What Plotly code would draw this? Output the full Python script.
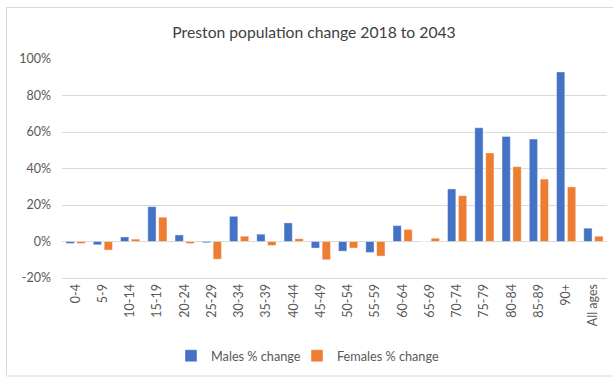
import plotly.graph_objects as go

# Age bands and projected % change 2018 -> 2043
age_bands = ["0-4", "5-9", "10-14", "15-19", "20-24", "25-29", "30-34", "35-39",
             "40-44", "45-49", "50-54", "55-59", "60-64", "65-69", "70-74", "75-79",
             "80-84", "85-89", "90+", "All ages"]
males_pct = [-1.1, -1.8, 2.5, 19.1, 3.6, -0.7, 13.8, 4.0, 10.2, -3.6, -5.3, -6.0,
             8.7, 0.0, 28.8, 62.3, 57.6, 56.1, 92.9, 7.3]
females_pct = [-1.1, -4.7, 1.3, 13.3, -1.1, -9.7, 2.9, -2.2, 1.5, -10.0, -3.6, -8.0,
               6.6, 1.8, 25.1, 48.5, 41.0, 34.2, 29.9, 2.9]
y_ticks = [-20, 0, 20, 40, 60, 80, 100]
y_tick_text = [f"{v}%" for v in y_ticks]

FONT = "Lato, 'Open Sans', sans-serif"
GRID = "#d9d9d9"

fig = go.Figure()
fig.add_trace(go.Bar(
    x=age_bands, y=males_pct, name="Males % change", legend="legend",
    marker=dict(color="#4472C4", line=dict(color="rgba(255,255,255,0.5)", width=0.8)),
))
fig.add_trace(go.Bar(
    x=age_bands, y=females_pct, name="Females % change", legend="legend2",
    marker=dict(color="#ED7D31", line=dict(color="rgba(255,255,255,0.5)", width=0.8)),
))

# Plot area in pixels: x 62..607, y 59..278
L, R, T, B = 62, 6, 59, 99
W, H = 613, 377
pw, ph = W - L - R, H - T - B

def px_x(x):
    return (x - L) / pw

def px_y(y):
    return (H - B - y) / ph

legend_style = dict(orientation="h", xanchor="left", yanchor="middle",
                    y=px_y(356), bgcolor="rgba(0,0,0,0)",
                    font=dict(family=FONT, size=12.7, color="#595959"),
                    itemwidth=30)

fig.update_layout(
    width=W, height=H,
    margin=dict(l=L, r=R, t=T, b=B),
    paper_bgcolor="white", plot_bgcolor="white",
    font=dict(family=FONT, color="#595959", size=13),
    title=dict(text="Preston population change 2018 to 2043",
               font=dict(family=FONT, size=15.7, color="#404040"),
               x=(314 / W), xanchor="center", y=1 - 33 / H, yanchor="middle"),
    barmode="group", bargap=0.2, bargroupgap=0.24,
    showlegend=True,
    legend=dict(x=px_x(171), **legend_style),
    legend2=dict(x=px_x(297), **legend_style),
    shapes=[dict(type="rect", xref="paper", yref="paper",
                 x0=px_x(6.5), x1=px_x(614), y0=px_y(376), y1=px_y(7.5),
                 line=dict(color=GRID, width=1), layer="below")],
)

fig.update_xaxes(
    type="category", tickangle=-90,
    tickfont=dict(family=FONT, size=12.5, color="#595959"),
    showline=True, linecolor=GRID, linewidth=1,
    showgrid=False, ticks="",
)
fig.update_yaxes(
    range=[-20, 100], tickvals=y_ticks, ticktext=y_tick_text,
    tickfont=dict(family=FONT, size=12.5, color="#595959"),
    showgrid=True, gridcolor=GRID, gridwidth=1,
    zeroline=True, zerolinecolor=GRID, zerolinewidth=1,
    ticks="", ticklabelstandoff=10,
)

fig.write_html("out.html")
